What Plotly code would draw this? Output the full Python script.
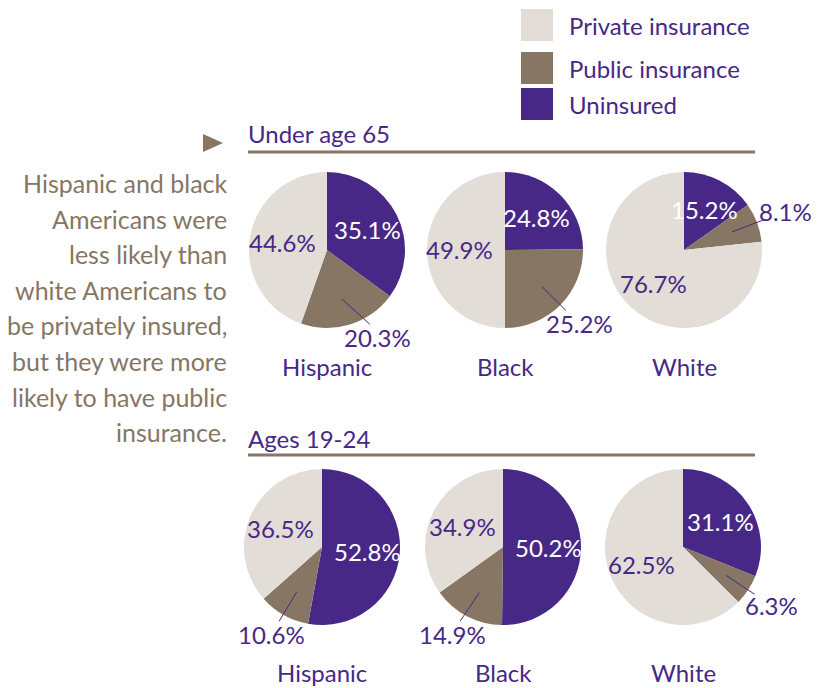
import math
import plotly.graph_objects as go

# ---------------- data ----------------
categories = ["Uninsured", "Public insurance", "Private insurance"]
groups = ["Hispanic", "Black", "White"]
sections = ["Under age 65", "Ages 19-24"]

under65_uninsured = [35.1, 24.8, 15.2]
under65_public = [20.3, 25.2, 8.1]
under65_private = [44.6, 49.9, 76.7]

ages1924_uninsured = [52.8, 50.2, 31.1]
ages1924_public = [10.6, 14.9, 6.3]
ages1924_private = [36.5, 34.9, 62.5]

legend_order = ["Private insurance", "Public insurance", "Uninsured"]

side_text = [
    "Hispanic and black",
    "Americans were",
    "less likely than",
    "white Americans to",
    "be privately insured,",
    "but they were more",
    "likely to have public",
    "insurance.",
]

# ---------------- style ----------------
W, H = 831, 688
OFF = 8  # page body margin
FONT = "Lato"
PURPLE = "#472886"
BROWN = "#867663"
LIGHT = "#E2DDD6"
colors = {"Uninsured": PURPLE, "Public insurance": BROWN, "Private insurance": LIGHT}
label_color = {"Uninsured": "white", "Public insurance": PURPLE, "Private insurance": PURPLE}
outside = {"Uninsured": False, "Public insurance": True, "Private insurance": False}

R = 78
row_cy = [250, 547]
row_cx = [[327, 505, 684], [322, 503, 683]]
header_y = [133, 438]
line_y = [152, 455]
group_label_y = [366, 672]
MIN_GAP_FROM_BOTTOM = 30  # deg: keep outside labels clear of caption below pie


def px(x):
    return (x - OFF) / W


def py(y):
    return 1 - (y - OFF) / H


fig = go.Figure()
annotations = []
shapes = []

rows = [
    (under65_uninsured, under65_public, under65_private),
    (ages1924_uninsured, ages1924_public, ages1924_private),
]

for r, (unins, pub, priv) in enumerate(rows):
    cy = row_cy[r]
    for g, group in enumerate(groups):
        cx = row_cx[r][g]
        vals = [unins[g], pub[g], priv[g]]
        fig.add_trace(go.Pie(
            values=vals,
            labels=categories,
            sort=False,
            direction="clockwise",
            rotation=0,
            textinfo="none",
            hoverinfo="label+value",
            marker=dict(colors=[colors[c] for c in categories], line=dict(width=0)),
            domain=dict(x=[px(cx - R), px(cx + R)], y=[py(cy + R), py(cy - R)]),
            showlegend=False,
        ))
        total = sum(vals)
        start = 0.0
        for cat, v in zip(categories, vals):
            mid_deg = (start + v / 2) / total * 360
            start += v
            mid = math.radians(mid_deg)
            sx, sy = math.sin(mid), -math.cos(mid)
            if outside[cat]:
                lab_deg = mid_deg
                if abs(lab_deg - 180) < MIN_GAP_FROM_BOTTOM:
                    lab_deg = 180 + math.copysign(MIN_GAP_FROM_BOTTOM, lab_deg - 180)
                la = math.radians(lab_deg)
                lx, ly = math.sin(la), -math.cos(la)
                d = R * (1.2 + 0.2 * abs(lx))
                shapes.append(dict(
                    type="line", xref="paper", yref="paper",
                    x0=px(cx + 0.66 * R * sx), y0=py(cy + 0.66 * R * sy),
                    x1=px(cx + 1.1 * R * lx), y1=py(cy + 1.1 * R * ly),
                    line=dict(color=PURPLE, width=1),
                ))
                tx, ty = cx + d * lx, cy + d * ly
            else:
                d = 0.58 * R
                tx, ty = cx + d * sx, cy + d * sy
            annotations.append(dict(
                x=px(tx), y=py(ty), xref="paper", yref="paper",
                text=f"{v:.1f}%", showarrow=False,
                font=dict(family=FONT, size=24, color=label_color[cat]),
                xanchor="center", yanchor="middle",
            ))
        annotations.append(dict(
            x=px(cx), y=py(group_label_y[r]), xref="paper", yref="paper",
            text=group, showarrow=False,
            font=dict(family=FONT, size=24, color=PURPLE),
            xanchor="center", yanchor="middle",
        ))
    # section header
    annotations.append(dict(
        x=px(246), y=py(header_y[r]), xref="paper", yref="paper",
        text=sections[r], showarrow=False,
        font=dict(family=FONT, size=24, color=PURPLE),
        xanchor="left", yanchor="middle",
    ))
    shapes.append(dict(
        type="line", xref="paper", yref="paper",
        x0=px(248), x1=px(755), y0=py(line_y[r]), y1=py(line_y[r]),
        line=dict(color=BROWN, width=3),
    ))

# legend (custom, large swatches)
leg_y = [25, 68, 104]
for name, yc in zip(legend_order, leg_y):
    shapes.append(dict(
        type="rect", xref="paper", yref="paper",
        x0=px(521), x1=px(553), y0=py(yc - 16), y1=py(yc + 16),
        fillcolor=colors[name], line=dict(width=0),
    ))
    annotations.append(dict(
        x=px(567), y=py(yc), xref="paper", yref="paper",
        text=name, showarrow=False,
        font=dict(family=FONT, size=24, color=PURPLE),
        xanchor="left", yanchor="middle",
    ))

# triangle marker
shapes.append(dict(
    type="path", xref="paper", yref="paper",
    path=f"M {px(203)} {py(134)} L {px(223)} {py(143)} L {px(203)} {py(152)} Z",
    fillcolor=BROWN, line=dict(width=0),
))

# side text
for i, line in enumerate(side_text):
    annotations.append(dict(
        x=px(229), y=py(183 + i * 35.6), xref="paper", yref="paper",
        text=line, showarrow=False,
        font=dict(family=FONT, size=25, color=BROWN),
        xanchor="right", yanchor="middle",
    ))

fig.update_layout(
    width=W, height=H,
    margin=dict(l=0, r=0, t=0, b=0),
    paper_bgcolor="white", plot_bgcolor="white",
    annotations=annotations, shapes=shapes,
    showlegend=False,
)

fig.write_html("out.html")
